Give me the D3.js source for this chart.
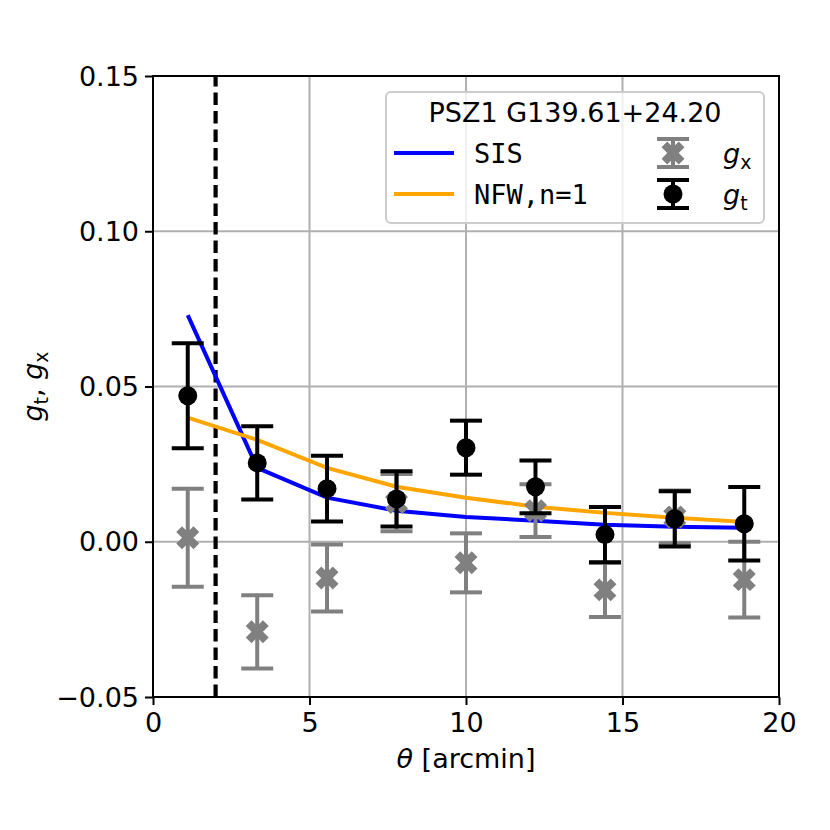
<!DOCTYPE html>
<html>
<head>
<meta charset="utf-8">
<script src="https://cdn.jsdelivr.net/npm/d3@7"></script>
<style>
  body { margin: 0; background: #fff; }
  text { font-family: "DejaVu Sans", sans-serif; }
</style>
</head>
<body>
<svg id="chart" width="830" height="830"></svg>
<script>
// radial bins (arcmin)
const theta = [1.11, 3.33, 5.56, 7.78, 10.0, 12.22, 14.44, 16.67, 18.89];
// tangential shear and errors
const gt = [0.0470, 0.0254, 0.0171, 0.0138, 0.0303, 0.0177, 0.0023, 0.0074, 0.0058];
const gtErr = [0.0169, 0.0118, 0.0106, 0.0089, 0.0087, 0.0085, 0.0089, 0.0089, 0.0118];
// cross shear and errors
const gx = [0.0013, -0.0290, -0.0117, 0.0126, -0.0068, 0.0100, -0.0155, 0.0080, -0.0122];
const gxErr = [0.0158, 0.0118, 0.0108, 0.0092, 0.0095, 0.0085, 0.0087, 0.0085, 0.0122];
// model curves
const sis = [0.0730, 0.0238, 0.0142, 0.0100, 0.0080, 0.0068, 0.0055, 0.0048, 0.0045];
const nfw = [0.0400, 0.0328, 0.0238, 0.0177, 0.0142, 0.0113, 0.0093, 0.0077, 0.0064];

const xTicks = [0, 5, 10, 15, 20];
const yTicks = [-0.05, 0.00, 0.05, 0.10, 0.15];
const innerCut = 2;
const title = 'PSZ1 G139.61+24.20';

const margin = { left: 153, top: 76, right: 51, bottom: 133 };
const W = 830, H = 830;
const fs = 27;

const svg = d3.select('#chart');

const x = d3.scaleLinear().domain([0, 20]).range([margin.left, W - margin.right]);
const y = d3.scaleLinear().domain([-0.05, 0.15]).range([H - margin.bottom, margin.top]);

// grid
const grid = svg.append('g').attr('class', 'grid');
grid.selectAll('.gx').data(xTicks).enter().append('line')
  .attr('x1', d => x(d)).attr('x2', d => x(d))
  .attr('y1', y.range()[0]).attr('y2', y.range()[1])
  .attr('stroke', '#b0b0b0').attr('stroke-width', 2);
grid.selectAll('.gy').data(yTicks).enter().append('line')
  .attr('y1', d => y(d)).attr('y2', d => y(d))
  .attr('x1', x.range()[0]).attr('x2', x.range()[1])
  .attr('stroke', '#b0b0b0').attr('stroke-width', 2);

// axes
const xAxis = d3.axisBottom(x).tickValues(xTicks).tickSize(8).tickPadding(6).tickFormat(d3.format('d'));
const yAxis = d3.axisLeft(y).tickValues(yTicks).tickSize(8).tickPadding(6)
  .tickFormat(d => d3.format('.2f')(d).replace('-', '\u2212'));

const gX = svg.append('g').attr('transform', `translate(0,${y.range()[0]})`).call(xAxis);
const gY = svg.append('g').attr('transform', `translate(${x.range()[0]},0)`).call(yAxis);
[gX, gY].forEach(g => {
  g.select('.domain').remove();
  g.selectAll('.tick line').attr('stroke', '#000').attr('stroke-width', 2);
  g.selectAll('.tick text').attr('fill', '#000').style('font-size', `${fs}px`)
    .style('font-family', '"DejaVu Sans", sans-serif');
});
gY.selectAll('.tick text').attr('dy', '0.34em');
gX.selectAll('.tick text').attr('dy', '0.76em');

// frame
svg.append('rect')
  .attr('x', x.range()[0]).attr('y', y.range()[1])
  .attr('width', x.range()[1] - x.range()[0])
  .attr('height', y.range()[0] - y.range()[1])
  .attr('fill', 'none').attr('stroke', '#000').attr('stroke-width', 2);

// inner cut
svg.append('line')
  .attr('x1', x(innerCut)).attr('x2', x(innerCut))
  .attr('y1', y.range()[0]).attr('y2', y.range()[1])
  .attr('stroke', '#000').attr('stroke-width', 4.2)
  .attr('stroke-dasharray', '12.5,6');

// model lines
const line = d3.line().x((d, i) => x(theta[i])).y(d => y(d));
svg.append('path').attr('d', line(sis))
  .attr('fill', 'none').attr('stroke', '#0000ff').attr('stroke-width', 4);
svg.append('path').attr('d', line(nfw))
  .attr('fill', 'none').attr('stroke', '#ffa500').attr('stroke-width', 4);

const cap = 16;
const crossPath = d3.symbol().type(d3.symbolCross).size(330)();

function errorBars(vals, errs, color, marker) {
  const g = svg.append('g');
  const pts = g.selectAll('g').data(vals).enter().append('g');
  pts.append('line')
    .attr('x1', (d, i) => x(theta[i])).attr('x2', (d, i) => x(theta[i]))
    .attr('y1', (d, i) => y(d - errs[i])).attr('y2', (d, i) => y(d + errs[i]))
    .attr('stroke', color).attr('stroke-width', 4);
  [-1, 1].forEach(s => {
    pts.append('line')
      .attr('x1', (d, i) => x(theta[i]) - cap).attr('x2', (d, i) => x(theta[i]) + cap)
      .attr('y1', (d, i) => y(d + s * errs[i])).attr('y2', (d, i) => y(d + s * errs[i]))
      .attr('stroke', color).attr('stroke-width', 4);
  });
  if (marker === 'circle') {
    pts.append('circle')
      .attr('cx', (d, i) => x(theta[i])).attr('cy', d => y(d))
      .attr('r', 9.5).attr('fill', color);
  } else {
    pts.append('path').attr('d', crossPath)
      .attr('transform', (d, i) => `translate(${x(theta[i])},${y(d)}) rotate(45)`)
      .attr('fill', color);
  }
}
errorBars(gx, gxErr, '#808080', 'x');
errorBars(gt, gtErr, '#000000', 'circle');

// axis labels
const xl = svg.append('text')
  .attr('x', (x.range()[0] + x.range()[1]) / 2).attr('y', 768)
  .attr('text-anchor', 'middle').style('font-size', `${fs}px`);
xl.append('tspan').style('font-style', 'italic').text('θ');
xl.append('tspan').text(' [arcmin]');

const yl = svg.append('text')
  .attr('transform', `translate(42,${(y.range()[0] + y.range()[1]) / 2}) rotate(-90)`)
  .attr('text-anchor', 'middle').style('font-size', `${fs}px`);
function mathSub(t, base, sub, tail) {
  t.append('tspan').style('font-style', 'italic').text(base);
  t.append('tspan').attr('dy', 6).style('font-size', `${fs * 0.7}px`).text(sub);
  t.append('tspan').attr('dy', -6).text(tail || '');
}
mathSub(yl, 'g', 't', ', ');
mathSub(yl, 'g', 'x', '');

// legend
const lg = svg.append('g');
lg.append('rect')
  .attr('x', 386).attr('y', 92).attr('width', 378).attr('height', 131)
  .attr('rx', 5).attr('fill', '#fff').attr('fill-opacity', 0.8)
  .attr('stroke', '#cccccc').attr('stroke-width', 2);
lg.append('text').attr('x', 575).attr('y', 122)
  .attr('text-anchor', 'middle').style('font-size', `${fs}px`).text(title);

const rows = [153, 194];
const modelNames = ['SIS', 'NFW,n=1'];
const modelColors = ['#0000ff', '#ffa500'];
rows.forEach((ry, i) => {
  lg.append('line').attr('x1', 394).attr('x2', 454).attr('y1', ry).attr('y2', ry)
    .attr('stroke', modelColors[i]).attr('stroke-width', 4);
  lg.append('text').attr('x', 474).attr('y', ry + 10)
    .style('font-family', '"DejaVu Sans Mono", monospace')
    .style('font-size', `${fs}px`).text(modelNames[i]);
});

const ebx = 673;
function legendBar(ry, color, marker) {
  lg.append('line').attr('x1', ebx).attr('x2', ebx).attr('y1', ry - 14).attr('y2', ry + 14)
    .attr('stroke', color).attr('stroke-width', 4);
  [-14, 14].forEach(o => lg.append('line')
    .attr('x1', ebx - cap).attr('x2', ebx + cap).attr('y1', ry + o).attr('y2', ry + o)
    .attr('stroke', color).attr('stroke-width', 4));
  if (marker === 'circle') {
    lg.append('circle').attr('cx', ebx).attr('cy', ry).attr('r', 9.5).attr('fill', color);
  } else {
    lg.append('path').attr('d', crossPath)
      .attr('transform', `translate(${ebx},${ry}) rotate(45)`).attr('fill', color);
  }
}
legendBar(rows[0], '#808080', 'x');
legendBar(rows[1], '#000000', 'circle');
const t1 = lg.append('text').attr('x', 723).attr('y', rows[0] + 10).style('font-size', `${fs}px`);
mathSub(t1, 'g', 'x', '');
const t2 = lg.append('text').attr('x', 723).attr('y', rows[1] + 10).style('font-size', `${fs}px`);
mathSub(t2, 'g', 't', '');
</script>
</body>
</html>
